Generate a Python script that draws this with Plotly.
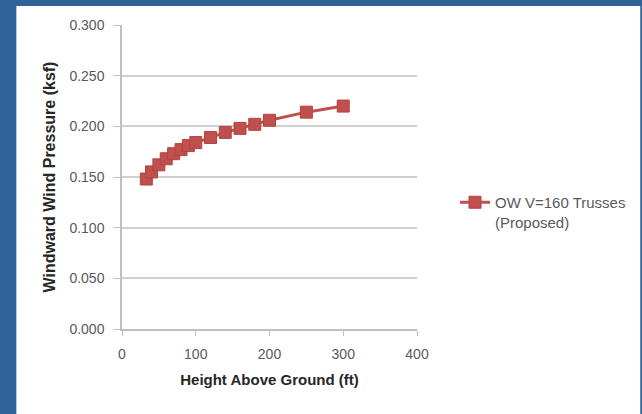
import plotly.graph_objects as go

heights = [33, 40, 50, 60, 70, 80, 90, 100, 120, 140, 160, 180, 200, 250, 300]
pressure = [0.148, 0.155, 0.162, 0.168, 0.173, 0.177, 0.181, 0.184, 0.189, 0.194,
            0.198, 0.202, 0.206, 0.214, 0.220]
series_name = "OW V=160 Trusses<br>(Proposed)"
x_title = "Height Above Ground (ft)"
y_title = "Windward Wind Pressure (ksf)"
x_ticks = [0, 100, 200, 300, 400]
y_ticks = [0.0, 0.05, 0.10, 0.15, 0.20, 0.25, 0.30]

RED = "#C0504D"
BLUE = "#2F6399"
FONT = "Liberation Sans, Arial, sans-serif"

fig = go.Figure()
fig.add_trace(go.Scatter(
    x=heights, y=pressure, mode="lines+markers", name=series_name,
    line=dict(color=RED, width=3),
    marker=dict(symbol="square", size=12, color=RED, line=dict(color="#B44340", width=1)),
    showlegend=True,
))

W, H = 642, 414
ml, mr, mt, mb = 122, 224, 25, 85
pw, ph = W - ml - mr, H - mt - mb

# white panel inside blue frame
fig.add_shape(type="rect", xref="paper", yref="paper", layer="below",
              x0=-(ml - 16) / pw, x1=(W - ml) / pw,
              y0=-mb / ph - 0.01, y1=(H - 6 - mb) / ph,
              fillcolor="white", line=dict(width=0))

fig.update_layout(
    width=W, height=H,
    margin=dict(l=ml, r=mr, t=mt, b=mb, pad=0),
    paper_bgcolor=BLUE, plot_bgcolor="white",
    font=dict(family=FONT, size=14, color="#595959"),
    showlegend=True,
    legend=dict(x=(455 - ml) / pw, y=(329 - 186) / ph, xanchor="left", yanchor="top",
                valign="top", bgcolor="rgba(0,0,0,0)",
                font=dict(family=FONT, size=15, color="#595959"),
                tracegroupgap=0),
    xaxis=dict(range=[0, 400], tickvals=x_ticks, ticktext=[str(v) for v in x_ticks],
               showgrid=False, zeroline=False, showline=True, linecolor="#BFBFBF", linewidth=1.5,
               ticks="outside", ticklen=5, tickcolor="#BFBFBF",
               ticklabelstandoff=6,
               tickfont=dict(size=14, color="#595959"),
               title=dict(text="<b>" + x_title + "</b>", font=dict(size=15, color="#262626"), standoff=14)),
    yaxis=dict(range=[0, 0.3], tickvals=y_ticks, ticktext=[f"{v:.3f}" for v in y_ticks],
               showgrid=True, gridcolor="#D0D0D0", gridwidth=1.5,
               zeroline=False, showline=True, linecolor="#BFBFBF", linewidth=1.5,
               ticks="outside", ticklen=7, tickcolor="#BFBFBF",
               ticklabelstandoff=6,
               tickfont=dict(size=14, color="#595959"),
               title=dict(text="<b>" + y_title + "</b>", font=dict(size=16, color="#262626"), standoff=10)),
)

fig.write_html("out.html")
